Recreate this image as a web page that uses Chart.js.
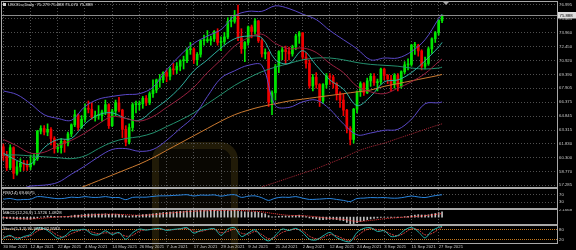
<!DOCTYPE html>
<html>
<head>
<meta charset="utf-8">
<title>USOILu Daily</title>
<script src="https://cdn.jsdelivr.net/npm/chart.js@4.4.1/dist/chart.umd.min.js"></script>
<style>
  html, body { margin: 0; padding: 0; background: #000; }
  body { position: relative; width: 576px; height: 250px; overflow: hidden; }
  canvas { position: absolute; left: 0; }
  #logo { position: absolute; left: 152px; top: 142px; width: 72px; height: 120px;
          border: 7px solid rgba(130,108,35,0.20); border-radius: 18px; background: rgba(95,80,25,0.09); }
</style>
</head>
<body>
<div id="logo"></div>
<canvas id="cMain" width="576" height="188" style="top:0"></canvas>
<canvas id="cRsi" width="576" height="21" style="top:188px"></canvas>
<canvas id="cMacd" width="576" height="16" style="top:209px"></canvas>
<canvas id="cStoch" width="576" height="25" style="top:225px"></canvas>
<script>
// bar positions of the date labels and their texts
const dateIdx = [0, 8, 16, 24, 32, 40, 48, 56, 64, 72, 80, 88, 96, 104, 112, 120, 128];
const dateLabels = ['30 Mar 2021', '12 Apr 2021', '22 Apr 2021', '4 May 2021', '14 May 2021', '26 May 2021',
  '7 Jun 2021', '17 Jun 2021', '29 Jun 2021', '9 Jul 2021', '21 Jul 2021', '2 Aug 2021', '12 Aug 2021',
  '24 Aug 2021', '3 Sep 2021', '15 Sep 2021', '27 Sep 2021'];
const priceTicks = [76.995, 75.465, 73.960, 72.450, 70.920, 69.390, 67.905, 66.375, 64.845, 63.315, 61.830, 60.300, 58.770, 57.285];
const lastPrice = 75.888;

// daily candles
const barOpen = [61.5,60.5,59.2,61.4,58.6,59.3,59.7,59.6,59.3,59.7,
  60.2,63.2,63.5,63.1,63.4,62.4,61.3,61.4,62.1,61.9,
  62.9,63.9,65.0,63.6,64.5,65.7,65.6,64.7,64.9,64.9,
  65.3,66.1,63.8,65.4,66.3,65.5,63.4,62.0,63.6,66.1,
  66.1,66.2,66.8,66.3,67.3,67.7,68.8,68.8,69.6,69.2,
  70.0,69.9,70.3,70.9,70.9,72.1,72.2,71.0,71.6,73.1,
  73.1,73.1,73.3,74.1,72.9,73.0,73.5,75.2,75.2,75.9,
  73.4,72.2,72.9,74.6,74.1,75.25,73.1,71.65,71.8,66.4,
  67.4,70.3,71.9,72.1,71.9,71.65,72.4,73.6,73.95,71.3,
  70.6,68.15,69.1,68.3,66.5,68.3,69.25,69.1,68.4,67.3,
  66.6,65.5,63.5,62.3,65.6,67.5,68.4,67.4,68.7,69.2,
  68.5,68.6,69.99,69.3,68.9,68.35,69.3,68.1,69.7,70.45,
  70.5,72.6,72.6,71.97,70.3,70.6,72.2,73.3,73.98,75.279];
const barHigh = [61.8,61.0,61.7,61.5,59.9,60.2,60.0,60.0,60.6,60.7,
  63.3,63.8,63.8,64.0,63.6,62.6,61.8,62.4,62.3,63.1,
  64.0,65.5,65.1,64.9,66.2,66.5,66.3,65.4,66.0,65.5,
  66.6,66.2,65.6,66.6,66.9,65.6,63.8,64.0,66.3,66.5,
  66.5,67.0,67.1,67.5,68.8,68.9,69.4,69.7,69.9,70.2,
  70.6,70.7,71.0,71.4,72.3,72.9,72.3,71.8,73.2,73.7,
  74.2,73.6,74.2,74.4,73.5,74.0,75.6,75.7,76.4,76.98,
  74.4,73.0,74.7,74.8,75.5,75.3,73.3,72.2,71.9,67.6,
  70.5,72.0,72.4,72.5,72.4,72.6,73.8,74.1,74.0,71.8,
  71.0,69.4,69.6,68.4,68.4,69.5,69.5,69.3,68.5,67.5,
  67.3,65.6,63.7,65.7,67.6,68.6,68.5,69.0,69.5,69.5,
  68.9,70.1,70.1,69.4,69.3,69.5,69.5,69.8,70.8,71.1,
  72.7,72.9,72.7,72.1,71.3,72.4,73.4,74.1,75.4,75.888];
const barLow = [60.0,58.9,59.0,58.0,58.4,58.8,58.9,58.9,59.0,59.5,
  60.0,62.9,62.8,62.7,61.7,60.8,60.9,60.8,60.9,61.6,
  62.6,63.7,63.3,63.5,64.2,65.2,64.5,64.3,64.5,64.3,
  65.0,63.5,63.7,64.9,65.3,62.5,61.6,61.8,63.2,65.2,
  65.5,65.7,66.0,66.1,66.9,67.4,68.0,68.5,68.6,68.8,
  69.4,69.5,69.8,70.0,70.7,71.6,70.6,70.4,71.3,72.6,
  72.9,72.6,73.0,72.6,72.0,72.7,73.3,74.6,75.0,73.1,
  71.7,70.8,72.6,73.4,73.8,72.9,71.3,71.1,65.9,65.0,
  66.6,69.6,71.0,70.5,71.0,71.4,72.1,72.8,71.1,70.1,
  67.9,67.6,67.9,65.9,66.2,67.9,68.3,67.9,66.6,65.8,
  64.9,63.0,61.7,61.9,65.2,67.0,67.1,67.3,68.1,68.2,
  67.6,68.3,68.8,68.4,67.6,67.9,67.6,67.9,69.5,69.9,
  70.3,71.6,71.4,69.9,70.0,70.4,71.7,72.9,73.7,75.07];
const barClose = [60.5,59.2,61.4,58.6,59.3,59.7,59.6,59.3,59.7,60.2,
  63.2,63.5,63.1,63.4,62.4,61.3,61.4,62.1,61.9,62.9,
  63.9,65.0,63.6,64.5,65.7,65.6,64.7,64.9,64.9,65.3,
  66.1,63.8,65.4,66.3,65.5,63.4,62.0,63.6,66.1,66.1,
  66.2,66.8,66.3,67.3,67.7,68.8,68.8,69.6,69.2,70.0,
  69.9,70.3,70.9,70.9,72.1,72.2,71.0,71.6,73.1,73.1,
  73.1,73.3,74.1,72.9,72.98,73.5,75.2,75.2,75.9,73.4,
  72.2,72.9,74.6,74.1,75.25,73.1,71.65,71.8,66.4,67.4,
  70.3,71.9,72.1,71.9,71.65,72.4,73.6,73.95,71.3,70.6,
  68.15,69.1,68.3,66.5,68.3,69.25,69.1,68.4,67.3,66.6,
  65.5,63.5,62.3,65.6,67.5,68.4,67.4,68.7,69.2,68.5,
  68.6,69.99,69.3,68.9,68.35,69.3,68.1,69.7,70.45,70.5,
  72.6,72.6,71.97,70.3,70.6,72.2,73.3,73.98,75.3,75.888];

// overlay lines, read every 4 bars
const maIdx = [0,4,8,12,16,20,24,28,32,36,40,44,48,52,56,60,64,68,72,76,80,84,88,92,96,100,104,108,112,116,120,124,128,129];
const bbUpper = [67.6,67.2,66.2,65.0,64.6,64.4,65.9,66.7,67.0,67.2,67.3,68.0,69.9,71.5,72.8,73.6,74.3,75.8,76.3,76.3,76.9,76.6,76.0,75.4,74.2,73.2,72.2,71.0,71.2,71.2,71.9,73.2,75.5,76.0];
const bbMiddle = [62.3,61.6,60.8,60.9,61.6,62.2,63.0,64.0,64.8,64.6,64.3,64.8,65.8,66.8,68.0,69.6,71.0,72.5,73.4,73.8,72.8,72.2,72.3,71.8,70.6,69.6,68.1,67.5,67.3,67.9,68.6,69.5,70.8,71.1];
const bbLower = [57.0,56.8,57.2,57.3,57.6,58.5,59.4,60.4,61.2,61.3,61.0,61.2,62.2,63.5,64.8,67.0,69.0,69.8,70.4,70.4,66.0,65.8,66.4,66.6,65.6,64.0,62.8,63.0,63.3,63.4,64.5,66.2,66.3,66.4];
const maFast = [60.8,60.0,59.6,61.4,62.3,62.4,64.0,65.0,65.2,64.6,64.4,65.5,66.6,68.0,69.8,71.0,72.3,73.3,73.6,73.4,71.0,70.6,72.0,70.4,68.8,67.8,66.0,67.0,68.6,68.8,69.6,70.9,72.4,72.9];
const ma50 = [60.6,60.6,60.5,60.4,60.3,60.2,60.5,61.3,62.0,62.4,62.6,63.0,63.7,64.4,65.2,66.2,67.2,68.2,69.0,69.7,70.2,70.6,71.0,71.2,71.2,71.0,70.7,70.5,70.4,70.3,70.1,70.0,70.1,70.2];
const ma100 = [53.6,54.2,54.8,55.4,56.0,56.6,57.2,57.8,58.4,59.0,59.6,60.3,61.1,61.9,62.7,63.5,64.3,65.0,65.5,65.9,66.2,66.5,66.7,66.9,67.1,67.3,67.5,67.7,68.1,68.4,68.7,69.0,69.3,69.4];
const ma200Idx = [60,64,68,72,76,80,84,88,92,96,100,104,108,112,116,120,124,128,129];
const ma200 = [55.0,55.5,56.0,56.5,57.1,57.6,58.1,58.6,59.1,59.7,60.3,61.0,61.5,61.9,62.4,62.9,63.4,63.9,64.0];

// oscillators, read every 2 bars
const oscIdx = [0,2,4,6,8,10,12,14,16,18,20,22,24,26,28,30,32,34,36,38,40,42,44,46,48,50,52,54,56,58,60,62,64,66,68,70,
  72,74,76,78,80,82,84,86,88,90,92,94,96,98,100,102,104,106,108,110,112,114,116,118,120,122,124,126,128,129];
const rsi14 = [46,50,43,45,46,60,58,53,49,51,57,55,60,56,56,60,55,55,44,56,57,57,61,64,64,66,68,70,63,68,67,69,62,68,70,56,
  62,64,54,40,52,57,56,60,52,45,46,48,50,45,40,34,50,52,55,54,55,52,52,57,63,58,55,62,68,69.67];
const stochMain = [30,45,22,38,50,88,84,58,28,40,72,76,80,52,48,72,50,62,22,60,82,76,82,86,74,80,84,90,58,74,80,84,45,82,90,38,
  58,78,36,12,45,82,74,86,62,22,18,42,62,32,14,8,62,86,90,68,72,38,44,76,92,66,30,72,92,96.99];
const stochSignal = [35,38,32,33,42,70,82,70,45,35,55,70,78,65,55,60,58,58,40,45,70,78,80,82,78,78,82,86,70,68,78,82,60,68,82,58,
  52,68,50,25,35,62,75,80,72,40,25,32,50,42,25,14,40,70,85,78,72,52,42,60,84,78,48,56,80,92.96];
const macdMain = [-0.35,-0.45,-0.4,-0.55,-0.6,-0.6,-0.6,-0.6,-0.55,-0.5,
  -0.2,0.05,0.2,0.35,0.35,0.25,0.2,0.2,0.15,0.25,
  0.4,0.6,0.6,0.7,0.85,0.95,0.95,0.95,0.95,0.95,
  1.0,0.85,0.85,0.9,0.85,0.65,0.4,0.3,0.45,0.55,
  0.65,0.75,0.8,0.9,1.0,1.15,1.25,1.4,1.45,1.55,
  1.6,1.65,1.75,1.8,1.9,2.0,2.05,2.0,2.0,2.05,
  2.05,2.05,2.1,2.05,2.0,2.0,2.1,2.15,2.1668,1.95,
  1.7,1.6,1.6,1.55,1.6,1.45,1.2,1.0,0.45,0.1,
  0.1,0.2,0.3,0.35,0.35,0.4,0.5,0.6,0.4,0.15,
  -0.25,-0.4,-0.55,-0.8,-0.8,-0.7,-0.65,-0.65,-0.75,-0.9,
  -1.1,-1.6,-2.0913,-1.95,-1.65,-1.3,-1.05,-0.8,-0.55,-0.4,
  -0.25,-0.1,-0.05,-0.05,-0.1,-0.05,-0.1,0.0,0.15,0.25,
  0.5,0.65,0.75,0.65,0.6,0.7,0.9,1.1,1.38,1.5726];
const macdSignal = [-0.1,-0.4,-0.55,-0.3,0.05,0.25,0.5,0.8,0.9,0.75,0.55,0.75,1.15,1.5,1.8,1.95,2.03,2.08,1.9,1.6,1.0,0.55,0.45,0.1,-0.4,-0.7,-1.3,-1.0,-0.5,-0.15,0.1,0.45,0.95,1.0828];

const FONT = 'Liberation Sans';
const TXT = '#c8c8c8';
const GRID = '#505050';
const BULL = '#00e600';
const BEAR = '#f00000';

function xAxis(showDates) {
    return {
        type: 'linear', min: -0.4, max: 162.8, offset: false,
        afterBuildTicks: s => { s.ticks = dateIdx.map(v => ({ value: v })); },
        afterFit: s => { s.height = showDates ? 7 : 0; s.paddingLeft = 0; s.paddingRight = 0; },
        grid: { color: GRID, drawTicks: false, offset: false },
        border: { display: false, dash: [1, 2] },
        ticks: {
            display: showDates, autoSkip: false, maxRotation: 0, align: 'start', padding: 1,
            color: TXT, font: { family: FONT, size: 4.3 },
            callback: (v, i) => dateLabels[i]
        }
    };
}

function yAxis(min, max, tickVals, fmt, gridColor, dash) {
    return {
        position: 'right', min: min, max: max,
        afterBuildTicks: s => { s.ticks = tickVals.map(v => ({ value: v })); },
        afterFit: s => { s.width = 19; s.paddingTop = 0; s.paddingBottom = 0; },
        grid: { color: gridColor, drawTicks: false },
        border: { display: false, dash: dash },
        ticks: { padding: 2, color: TXT, font: { family: FONT, size: 4.3 }, callback: fmt }
    };
}

function line(xs, ys, color, extra) {
    return Object.assign({
        type: 'line',
        data: xs.map((x, i) => ({ x: x, y: ys[i] })),
        borderColor: color, borderWidth: 1, pointRadius: 0, tension: 0.35, fill: false, order: 1
    }, extra || {});
}

// frames, window titles and the bid line
const decor = {
    id: 'decor',
    afterDraw(chart, args, o) {
        const { ctx, chartArea: a } = chart;
        ctx.save();
        ctx.strokeStyle = '#a8a8a8';
        ctx.lineWidth = 1;
        ctx.strokeRect(1.5, a.top - 0.5, a.right - 1, a.bottom - a.top + 1);

        ctx.font = '4.3px "' + FONT + '"';
        ctx.textBaseline = 'middle';
        if (o.price) {
            const y = Math.round(chart.scales.y.getPixelForValue(o.price)) + 0.5;
            ctx.strokeStyle = '#8c8c8c';
            ctx.beginPath();
            ctx.moveTo(a.left, y);
            ctx.lineTo(a.right, y);
            ctx.stroke();
            ctx.fillStyle = '#dedede';
            ctx.fillRect(a.right + 1, y - 3.5, 18, 6.5);
            ctx.fillStyle = '#000';
            ctx.fillText(o.price.toFixed(3), a.right + 2.5, y);
            // chart shift marker
            ctx.fillStyle = '#a0a0a0';
            ctx.beginPath();
            ctx.moveTo(443, 2); ctx.lineTo(449, 2); ctx.lineTo(446, 5);
            ctx.fill();
            // window icon
            ctx.fillStyle = '#d0d0d0';
            ctx.fillRect(3, 3, 3, 3);
        }
        if (o.title) {
            ctx.fillStyle = '#e2e2e2';
            ctx.fillText(o.title, o.tx, a.top + o.ty);
        }
        ctx.restore();
    }
};

function options(padding, yCfg, showDates, deco) {
    return {
        responsive: false, animation: false, devicePixelRatio: 1, events: [],
        layout: { padding: padding },
        plugins: { legend: { display: false }, tooltip: { enabled: false }, decor: deco },
        scales: { x: xAxis(showDates), y: yCfg }
    };
}

const candleColor = barClose.map((c, i) => (c >= barOpen[i] ? BULL : BEAR));

new Chart(document.getElementById('cMain'), {
    type: 'bar',
    data: {
        datasets: [
            line(maIdx, bbUpper, '#5a48c8'),
            line(maIdx, bbLower, '#5a48c8'),
            line(maIdx, bbMiddle, '#9a2040'),
            line(maIdx, maFast, '#2fb0a0'),
            line(maIdx, ma50, '#23906e'),
            line(maIdx, ma100, '#cc7a30'),
            line(ma200Idx, ma200, '#b02838', { borderDash: [1, 1] }),
            {
                type: 'bar', data: barClose.map((c, i) => ({ x: i, y: [barLow[i], barHigh[i]] })),
                backgroundColor: candleColor, barThickness: 1, grouped: false, order: 3
            },
            {
                type: 'bar', data: barClose.map((c, i) => ({ x: i, y: [barOpen[i], c] })),
                backgroundColor: candleColor, barThickness: 2, grouped: false, minBarLength: 1, order: 2
            }
        ]
    },
    options: options({ left: 2, top: 2, right: 0, bottom: 1 },
        yAxis(57.10, 77.32, priceTicks, v => v.toFixed(3), GRID, [1, 2]), false,
        { title: 'USOILu,Daily  75.279 75.888 75.070 75.888', tx: 8, ty: 2.5, price: lastPrice }),
    plugins: [decor]
});

new Chart(document.getElementById('cRsi'), {
    type: 'bar',
    data: { datasets: [line(oscIdx, rsi14, '#2a86e0', { tension: 0.3 })] },
    options: options({ left: 2, top: 1, right: 0, bottom: 1 },
        yAxis(0, 100, [70, 30], v => String(v), GRID, [1, 2]), false,
        { title: 'RSI(14) 69.6675', tx: 3, ty: 4 }),
    plugins: [decor]
});

new Chart(document.getElementById('cMacd'), {
    type: 'bar',
    data: {
        datasets: [
            line(maIdx, macdSignal, '#ff3838', { borderDash: [1, 1], order: 0 }),
            {
                type: 'bar', data: macdMain.map((v, i) => ({ x: i, y: v })),
                backgroundColor: '#c0c0c0', barThickness: 1, grouped: false, order: 1
            }
        ]
    },
    options: options({ left: 2, top: 1, right: 0, bottom: 1 },
        yAxis(-2.0913, 2.1668, [2.1668, 0, -2.0913], v => (v === 0 ? '0.00' : v.toFixed(4)), 'rgba(0,0,0,0)', [1, 2]), false,
        { title: 'MACD(12,26,9) 1.5726 1.0828', tx: 3, ty: 2.5 }),
    plugins: [decor]
});

new Chart(document.getElementById('cStoch'), {
    type: 'bar',
    data: {
        datasets: [
            line(oscIdx, stochMain, '#20b2aa', { tension: 0.3 }),
            line(oscIdx, stochSignal, '#d84040', { tension: 0.3, borderDash: [2, 1] })
        ]
    },
    options: options({ left: 2, top: 1, right: 0, bottom: 0 },
        yAxis(0, 100, [80, 20], v => String(v), '#c87a1e', [1, 1]), true,
        { title: 'Stoch(5,3,3) 96.9948 92.9583', tx: 3, ty: 3 }),
    plugins: [decor]
});
</script>
</body>
</html>
